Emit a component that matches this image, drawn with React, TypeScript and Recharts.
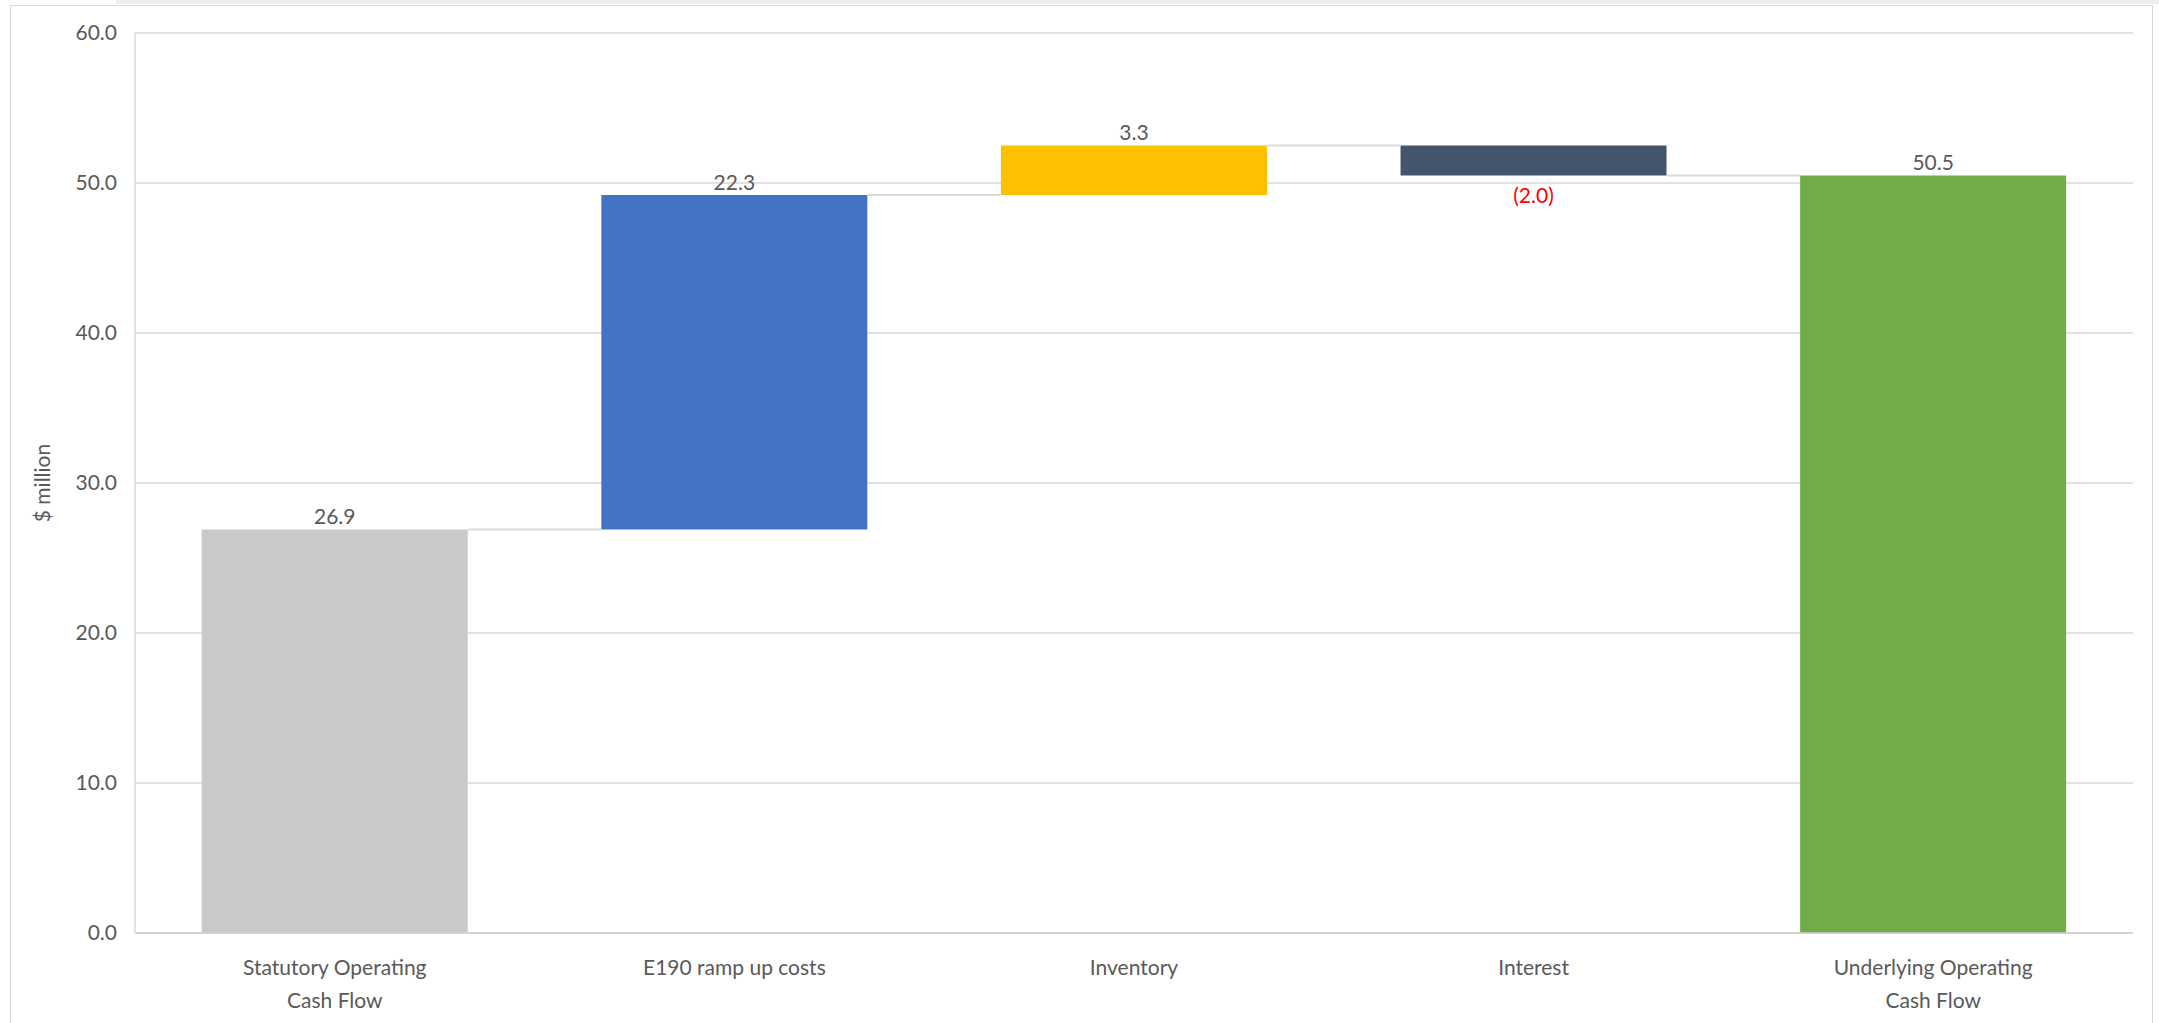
import React from 'react';
import {
  ComposedChart,
  Bar,
  Cell,
  XAxis,
  YAxis,
  CartesianGrid,
  LabelList,
  ReferenceLine,
} from 'recharts';

// waterfall steps
const categories = [
  'Statutory Operating Cash Flow',
  'E190 ramp up costs',
  'Inventory',
  'Interest',
  'Underlying Operating Cash Flow',
];
const tickLines = [
  ['Statutory Operating', 'Cash Flow'],
  ['E190 ramp up costs'],
  ['Inventory'],
  ['Interest'],
  ['Underlying Operating', 'Cash Flow'],
];
const changes = [26.9, 22.3, 3.3, -2.0, 50.5];
const isTotal = [true, false, false, false, true];
const barColors = ['#c9c9c9', '#4472c4', '#ffc000', '#44546a', '#70ad47'];
const yTicks = [0, 10, 20, 30, 40, 50, 60];

const FONT = 'Lato, "Liberation Sans", sans-serif';
const TEXT = '#595959';
const GRID = '#d9d9d9';
const GAP = 0.167;

// build base + visible part for the stacked waterfall
let running = 0;
const data = categories.map((name, i) => {
  const change = changes[i];
  let base: number;
  let size: number;
  if (isTotal[i]) {
    base = 0;
    size = change;
    running = change;
  } else {
    const next = running + change;
    base = Math.min(running, next);
    size = Math.abs(change);
    running = next;
  }
  return { name, base, size, change, level: running };
});

const formatValue = (v: number) => (v < 0 ? `(${Math.abs(v).toFixed(1)})` : v.toFixed(1));

const ValueLabel = (props: any) => {
  const { x, y, width, height, index } = props;
  const change = changes[index];
  const cx = x + width / 2;
  if (change < 0) {
    return (
      <text x={cx} y={y + height + 19} fill="#ff0000" fontSize={21} fontFamily={FONT}
        textAnchor="middle" dominantBaseline="central">
        {formatValue(change)}
      </text>
    );
  }
  return (
    <text x={cx} y={y - 14} fill={TEXT} fontSize={21} fontFamily={FONT}
      textAnchor="middle" dominantBaseline="central">
      {formatValue(change)}
    </text>
  );
};

const CategoryTick = (props: any) => {
  const { x, y, index } = props;
  const lines = tickLines[index] || [];
  return (
    <g>
      {lines.map((line, k) => (
        <text key={k} x={x} y={y + 25 + k * 33} fill={TEXT} fontSize={21} fontFamily={FONT}
          textAnchor="middle" dominantBaseline="central">
          {line}
        </text>
      ))}
    </g>
  );
};

// connector only in the gap between two bars (segment runs centre to centre)
const ConnectorShape = (props: any) => {
  const { x1, y1, x2, y2 } = props;
  const half = ((x2 - x1) * (1 - 2 * GAP)) / 2;
  return <line x1={x1 + half} y1={y1} x2={x2 - half} y2={y2} stroke={GRID} strokeWidth={2} />;
};

const connectors = data.slice(0, -1).map((d, i) => ({
  from: d.name,
  to: data[i + 1].name,
  level: d.level,
}));

export default function App() {
  return (
    <div style={{ position: 'fixed', left: 0, top: 0, width: 2159, height: 1023, background: '#fff' }}>
      <div style={{ position: 'absolute', left: 116, top: 0, width: 2043, height: 4, background: '#eeeeee' }} />
      <div
        style={{
          position: 'absolute',
          left: 10,
          top: 5,
          width: 2143,
          height: 1030,
          border: '1.5px solid #d9d9d9',
          boxSizing: 'border-box',
        }}
      />
      <div style={{ position: 'absolute', left: 0, top: 0 }}>
        <ComposedChart
          width={2159}
          height={1023}
          data={data}
          margin={{ top: 33, right: 26, bottom: 10, left: 0 }}
          barCategoryGap={`${GAP * 100}%`}
        >
          <CartesianGrid vertical={false} stroke={GRID} strokeWidth={1.5} />
          <XAxis
            dataKey="name"
            tick={<CategoryTick />}
            tickLine={false}
            axisLine={{ stroke: '#d0d0d0', strokeWidth: 1.5 }}
            height={80}
            interval={0}
          />
          <YAxis
            domain={[0, 60]}
            ticks={yTicks}
            tickFormatter={(v: number) => v.toFixed(1)}
            tick={{ fill: TEXT, fontSize: 21, fontFamily: FONT }}
            tickLine={false}
            tickMargin={12}
            axisLine={{ stroke: GRID, strokeWidth: 1.5 }}
            width={135}
            label={{
              value: '$ million',
              angle: -90,
              position: 'insideLeft',
              offset: 43,
              fill: TEXT,
              fontSize: 21,
              fontFamily: FONT,
              style: { textAnchor: 'middle' },
            }}
          />
          {connectors.map((c, i) => (
            <ReferenceLine
              key={i}
              segment={[
                { x: c.from, y: c.level },
                { x: c.to, y: c.level },
              ]}
              shape={<ConnectorShape />}
            />
          ))}
          <Bar dataKey="base" stackId="w" fill="transparent" isAnimationActive={false} />
          <Bar dataKey="size" stackId="w" isAnimationActive={false}>
            {data.map((d, i) => (
              <Cell key={d.name} fill={barColors[i]} />
            ))}
            <LabelList dataKey="size" content={<ValueLabel />} />
          </Bar>
        </ComposedChart>
      </div>
    </div>
  );
}
